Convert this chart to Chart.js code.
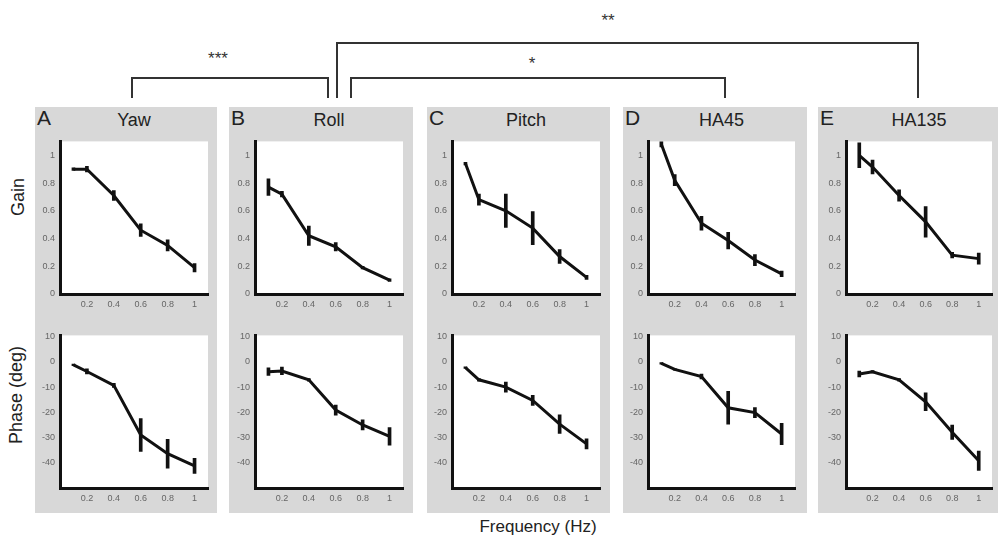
<!DOCTYPE html>
<html>
<head>
<meta charset="utf-8">
<script src="https://cdn.jsdelivr.net/npm/chart.js@4.4.0/dist/chart.umd.min.js"></script>
<style>
  body { margin: 0; background: #fff; font-family: "Liberation Sans", Arial, sans-serif; }
  #fig { position: relative; width: 998px; height: 543px; overflow: hidden; }
  .panel { position: absolute; top: 107px; height: 406px; background: #d8d8d8; }
  .letter { position: absolute; top: 106px; font-size: 21px; color: #222; }
  .title { position: absolute; top: 110px; font-size: 18px; color: #222; transform: translateX(-50%); white-space: nowrap; }
  .ylab { position: absolute; font-size: 18px; color: #222; white-space: nowrap; transform: translate(-50%, -50%) rotate(-90deg); }
  .bracket { position: absolute; border: 2px solid #333; border-bottom: none; box-sizing: border-box; }
  .stars { position: absolute; font-size: 17px; color: #333; transform: translate(-50%, -50%); }
  .xlab { position: absolute; left: 538px; top: 527px; font-size: 17px; color: #222; transform: translate(-50%, -50%); white-space: nowrap; }
  canvas { position: absolute; }
</style>
</head>
<body>
<div id="fig"></div>
<script>
// frequencies (Hz) and tick labels
const freqs = [0.1, 0.2, 0.4, 0.6, 0.8, 1.0];
const freqTicks = [0.2, 0.4, 0.6, 0.8, 1];
const gainTicks = [0, 0.2, 0.4, 0.6, 0.8, 1];
const phaseTicks = [10, 0, -10, -20, -30, -40];
const letters = ['A', 'B', 'C', 'D', 'E'];
const conditions = ['Yaw', 'Roll', 'Pitch', 'HA45', 'HA135'];

// gain (mean, sem)
const yawGain = [0.90, 0.90, 0.71, 0.46, 0.35, 0.19];
const yawGainErr = [0.01, 0.02, 0.035, 0.045, 0.04, 0.03];
const rollGain = [0.77, 0.72, 0.42, 0.34, 0.19, 0.10];
const rollGainErr = [0.06, 0.02, 0.07, 0.03, 0.01, 0.01];
const pitchGain = [0.94, 0.68, 0.60, 0.475, 0.27, 0.12];
const pitchGainErr = [0.01, 0.04, 0.12, 0.12, 0.05, 0.015];
const ha45Gain = [1.08, 0.82, 0.51, 0.385, 0.245, 0.145];
const ha45GainErr = [0.02, 0.04, 0.05, 0.06, 0.04, 0.02];
const ha135Gain = [1.0, 0.915, 0.71, 0.52, 0.28, 0.255];
const ha135GainErr = [0.09, 0.05, 0.04, 0.11, 0.02, 0.04];

// phase in deg (mean, sem)
const yawPhase = [-1.2, -3.8, -9.3, -29, -36.4, -41.2];
const yawPhaseErr = [0.3, 1, 0.8, 6.5, 5.7, 3];
const rollPhase = [-3.9, -3.6, -7.1, -19.1, -25, -29.5];
const rollPhaseErr = [1.5, 1.5, 0.5, 2, 2, 3.5];
const pitchPhase = [-2.3, -7.1, -10, -15.3, -24.7, -32.5];
const pitchPhaseErr = [0.3, 0.5, 2, 2, 3.7, 2];
const ha45Phase = [-0.6, -3, -5.8, -18.2, -20.1, -28.6];
const ha45PhaseErr = [0.3, 0.3, 1, 6.5, 2, 4.2];
const ha135Phase = [-4.8, -3.9, -7.1, -15.8, -27.9, -39.2];
const ha135PhaseErr = [1.2, 0.5, 0.5, 3.5, 2.8, 3.8];

const gains = [yawGain, rollGain, pitchGain, ha45Gain, ha135Gain];
const gainErrs = [yawGainErr, rollGainErr, pitchGainErr, ha45GainErr, ha135GainErr];
const phases = [yawPhase, rollPhase, pitchPhase, ha45Phase, ha135Phase];
const phaseErrs = [yawPhaseErr, rollPhaseErr, pitchPhaseErr, ha45PhaseErr, ha135PhaseErr];

// layout
const panelLeft = [35, 229, 427, 623, 818];
const panelRight = [217, 413, 610, 807, 998];
const axisX = [60, 255, 452, 648, 846];
const plotRight = [208, 403, 600, 795, 992];
const YW = 28, XH = 20, PAD_T = 8, PAD_R = 3, PLOT_H = 155;

Chart.defaults.font.family = "'Liberation Sans', Arial, sans-serif";

const fig = document.getElementById('fig');
function add(cls, style, text) {
  const d = document.createElement('div');
  d.className = cls;
  Object.assign(d.style, style);
  if (text) d.textContent = text;
  fig.appendChild(d);
  return d;
}

const plotBg = {
  id: 'plotBg',
  beforeDraw(chart) {
    const { ctx, chartArea: a } = chart;
    ctx.save();
    ctx.fillStyle = '#fff';
    ctx.fillRect(a.left, a.top, a.right - a.left, a.bottom - a.top);
    ctx.restore();
  }
};

const fmt = v => String(Math.round(v * 10) / 10);

function makePlot(left, top, width, mean, err, yMin, yMax, yTicks) {
  const c = document.createElement('canvas');
  const h = PAD_T + PLOT_H + XH;
  c.width = width; c.height = h;
  c.style.left = left + 'px'; c.style.top = top + 'px';
  fig.appendChild(c);
  new Chart(c, {
    type: 'line',
    data: {
      datasets: [
        {
          type: 'line',
          data: freqs.map((f, k) => ({ x: f, y: mean[k] })),
          borderColor: '#111', borderWidth: 3, pointRadius: 0, tension: 0
        },
        {
          type: 'bar',
          data: freqs.map((f, k) => ({ x: f, y: [mean[k] - err[k], mean[k] + err[k]] })),
          backgroundColor: '#111', borderWidth: 0, barThickness: 3
        }
      ]
    },
    options: {
      responsive: false, animation: false, events: [],
      layout: { padding: { top: PAD_T, right: PAD_R, left: 0, bottom: 0 } },
      plugins: { legend: { display: false }, tooltip: { enabled: false } },
      scales: {
        x: {
          type: 'linear', min: 0, max: 1.1, offset: false,
          grid: { display: false, drawTicks: false },
          border: { color: '#111', width: 3 },
          ticks: { font: { size: 9 }, color: '#666', padding: 5, callback: fmt },
          afterBuildTicks: s => { s.ticks = freqTicks.map(v => ({ value: v })); },
          afterFit: s => { s.height = XH; }
        },
        y: {
          type: 'linear', min: yMin, max: yMax,
          grid: { display: false, drawTicks: false },
          border: { color: '#111', width: 3 },
          ticks: { font: { size: 9 }, color: '#666', padding: 5, callback: fmt },
          afterBuildTicks: s => { s.ticks = yTicks.map(v => ({ value: v })); },
          afterFit: s => { s.width = YW; }
        }
      }
    },
    plugins: [plotBg]
  });
}

conditions.forEach((name, i) => {
  add('panel', { left: panelLeft[i] + 'px', width: (panelRight[i] - panelLeft[i]) + 'px' });
  add('letter', { left: (panelLeft[i] + 2) + 'px' }, letters[i]);
  add('title', { left: ((axisX[i] + plotRight[i]) / 2) + 'px' }, name);
  const w = YW + (plotRight[i] - axisX[i]) + PAD_R;
  makePlot(axisX[i] - YW, 139 - PAD_T, w, gains[i], gainErrs[i], 0, 1.1, gainTicks);
  makePlot(axisX[i] - YW, 333 - PAD_T, w, phases[i], phaseErrs[i], -50, 10.5, phaseTicks);
});

add('ylab', { left: '18px', top: '197px' }, 'Gain');
add('ylab', { left: '16px', top: '395px' }, 'Phase (deg)');
add('xlab', {}, 'Frequency (Hz)');

// significance brackets
add('bracket', { left: '131px', top: '77px', width: '198px', height: '21px' });
add('bracket', { left: '336px', top: '42px', width: '583px', height: '56px' });
add('bracket', { left: '350px', top: '77px', width: '376px', height: '21px' });
add('stars', { left: '218px', top: '59px' }, '***');
add('stars', { left: '608px', top: '21px' }, '**');
add('stars', { left: '532px', top: '64px' }, '*');
</script>
</body>
</html>
